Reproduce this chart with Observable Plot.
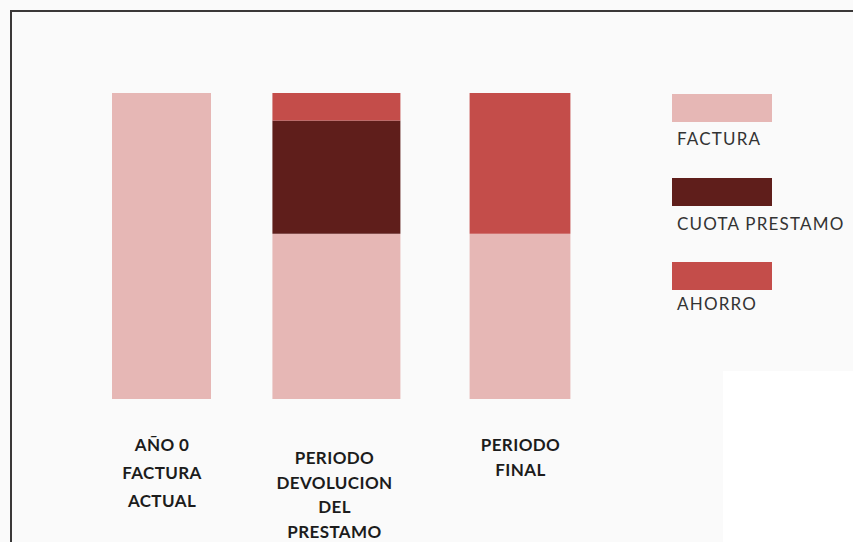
<!DOCTYPE html>
<html>
<head>
<meta charset="utf-8">
<script src="https://cdn.jsdelivr.net/npm/d3@7"></script>
<script src="https://cdn.jsdelivr.net/npm/@observablehq/plot@0.6"></script>
<style>
  html, body { margin: 0; padding: 0; background: #fafafa; }
  #wrap { position: relative; width: 853px; height: 542px; overflow: hidden; background: #fafafa; }
  #white { position: absolute; left: 723px; top: 371px; width: 200px; height: 200px; background: #ffffff; }
  #border { position: absolute; left: 10px; top: 10px; width: 900px; height: 600px;
            border-left: 2.5px solid #3a3838; border-top: 2.5px solid #3a3838; }
  #chart { position: absolute; left: 0; top: 0; }
  #chart svg text { letter-spacing: 0.4px; }
  .sw { position: absolute; left: 672px; width: 100px; height: 28px; }
  .lab { position: absolute; left: 677px; font-family: Lato, sans-serif; font-size: 17px;
         line-height: 17px; letter-spacing: 1.2px; color: #333; white-space: nowrap; }
</style>
</head>
<body>
<div id="wrap">
  <div id="white"></div>
  <div id="border"></div>
  <div id="chart"></div>
  <div id="legend"></div>
</div>
<script>
// ---- data ----
const categories = ["AÑO 0\nFACTURA\nACTUAL", "PERIODO\nDEVOLUCION\nDEL\nPRESTAMO", "PERIODO\nFINAL"];
const series = ["FACTURA", "CUOTA PRESTAMO", "AHORRO"];
const facturaValues = [100, 54, 54];
const cuotaValues = [0, 37, 0];
const ahorroValues = [0, 9, 46];
const colors = ["#e6b7b5", "#5f1e1b", "#c44d4a"];

// ---- build table (stacked manually: factura bottom, cuota, ahorro top) ----
const valuesBySeries = [facturaValues, cuotaValues, ahorroValues];
const rows = [];
categories.forEach((c, i) => {
  let base = 0;
  series.forEach((s, k) => {
    const v = valuesBySeries[k][i];
    if (v > 0) rows.push({i, category: c, series: s, y1: base, y2: base + v});
    base += v;
  });
});

const barHalf = [0.287, 0.357, 0.271];
const labelDy = [31, 47, 34];
const labelLH = [1.66, 1.45, 1.47];

const marks = [
  Plot.rect(rows, {
    x1: d => d.i - barHalf[d.i],
    x2: d => d.i + barHalf[d.i],
    y1: "y1", y2: "y2",
    fill: "series"
  }),
  ...categories.map((c, i) => Plot.text([c], {
    x: () => i,
    frameAnchor: "bottom",
    lineAnchor: "top",
    dy: labelDy[i],
    lineHeight: labelLH[i],
    text: d => d,
    fontFamily: "Lato, sans-serif",
    fontWeight: "bold",
    fontSize: 17,
    fill: "#1c1c1c"
  }))
];

const chart = Plot.plot({
  width: 853,
  height: 542,
  marginTop: 93,
  marginBottom: 143,
  marginLeft: 0,
  marginRight: 0,
  style: {background: "transparent", overflow: "visible"},
  x: {type: "linear", domain: [0, 1, 2], range: [161.5, 334, 520], axis: null},
  y: {domain: [0, 100], range: [399, 93], axis: null},
  color: {domain: series, range: colors},
  marks
});
document.getElementById("chart").appendChild(chart);

// ---- legend (HTML) ----
const legend = document.getElementById("legend");
const swTop = [94, 178, 262];
const labTop = [130, 215, 295];
series.forEach((s, k) => {
  const sw = document.createElement("div");
  sw.className = "sw";
  sw.style.top = swTop[k] + "px";
  sw.style.background = colors[k];
  legend.appendChild(sw);
  const lab = document.createElement("div");
  lab.className = "lab";
  lab.style.top = labTop[k] + "px";
  lab.textContent = s;
  legend.appendChild(lab);
});
</script>
</body>
</html>
